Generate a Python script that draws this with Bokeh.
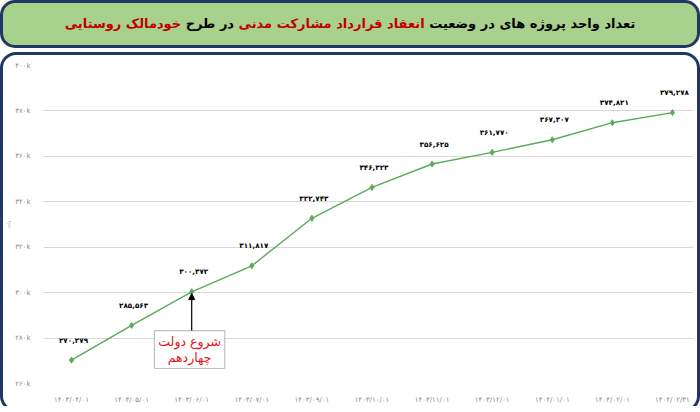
from bokeh.plotting import figure
from bokeh.models import (Range1d, FixedTicker, Div, BoxAnnotation, Label, Arrow,
                          NormalHead, ColumnDataSource)
from bokeh.layouts import column
from bokeh.core.properties import value
from bokeh.embed import file_html
from bokeh.resources import INLINE

# ---------------- data ----------------
categories = ["۱۴۰۳/۰۴/۰۱", "۱۴۰۳/۰۵/۰۱", "۱۴۰۳/۰۶/۰۱", "۱۴۰۳/۰۷/۰۱", "۱۴۰۳/۰۹/۰۱",
              "۱۴۰۳/۱۰/۰۱", "۱۴۰۳/۱۱/۰۱", "۱۴۰۳/۱۲/۰۱", "۱۴۰۴/۰۱/۰۱", "۱۴۰۴/۰۲/۰۱",
              "۱۴۰۴/۰۲/۳۱"]
units = [270279, 285563, 300372, 311817, 332743, 346323, 356625, 361770, 367307, 374821, 379278]
y_ticks = [260000, 280000, 300000, 320000, 340000, 360000, 380000, 400000]
y_tick_labels = ["۲۶۰k", "۲۸۰k", "۳۰۰k", "۳۲۰k", "۳۴۰k", "۳۶۰k", "۳۸۰k", "۴۰۰k"]
note_index = 2
note_lines = ["شروع دولت", "چهاردهم"]
y_title = "واحد"

FA = str.maketrans("0123456789", "۰۱۲۳۴۵۶۷۸۹")
def fa_num(v):
    return f"{v:,}".translate(FA)

FONT = "DejaVu Sans"
GREEN = "#5aab57"
NAVY = "#1f3864"

xs = list(range(len(categories)))
src = ColumnDataSource(dict(x=xs, y=units, lbl=[fa_num(v) for v in units]))

# ---------------- title ----------------
title_html = (
    '<div style="width:700px;height:48px;box-sizing:border-box;background:#a9d18e;'
    f'border:3.5px solid {NAVY};border-radius:15px;display:flex;align-items:center;'
    'justify-content:center;direction:rtl;font-family:\'DejaVu Sans\';font-weight:bold;'
    'font-size:13px;color:#000;">'
    'تعداد واحد پروژه های در وضعیت '
    '<span style="color:#c00000">&nbsp;انعقاد قرارداد مشارکت مدنی&nbsp;</span>'
    ' در طرح '
    '<span style="color:#c00000">&nbsp;خودمالک روستایی</span>'
    '</div>'
)
title_div = Div(text=title_html, width=700, height=52, margin=0)

# ---------------- chart ----------------
p = figure(width=700, height=360, output_backend="svg", toolbar_location=None,
           x_range=Range1d(-0.466, 10.35), y_range=Range1d(260000, 400000),
           min_border_left=43, min_border_right=7, min_border_top=13, min_border_bottom=29,
           margin=0)
p.outline_line_color = None
p.background_fill_color = "white"
p.border_fill_color = None
p.styles = {"outline": f"3.5px solid {NAVY}", "outline-offset": "-3.5px",
            "border-radius": "16px", "clip-path": "inset(0 0 6px 0)"}

p.xgrid.grid_line_color = None
p.ygrid.grid_line_color = "#d9d9d9"
p.ygrid.grid_line_width = 1

p.yaxis.ticker = FixedTicker(ticks=y_ticks)
p.yaxis.major_label_overrides = {t: l for t, l in zip(y_ticks, y_tick_labels)}
p.xaxis.ticker = FixedTicker(ticks=xs)
p.xaxis.major_label_overrides = {i: c for i, c in zip(xs, categories)}
for ax in (p.xaxis, p.yaxis):
    ax.axis_line_color = None
    ax.major_tick_line_color = None
    ax.minor_tick_line_color = None
    ax.major_label_text_font = FONT
    ax.major_label_text_font_size = "7px"
    ax.major_label_text_color = "#8c8c8c"
p.yaxis.major_label_standoff = 7
p.xaxis.major_label_standoff = 6
p.yaxis.axis_label = y_title
p.yaxis.axis_label_text_font = FONT
p.yaxis.axis_label_text_font_size = "4px"
p.yaxis.axis_label_text_font_style = "normal"
p.yaxis.axis_label_text_color = "#a0a0a0"
p.yaxis.axis_label_standoff = 1

p.line("x", "y", source=src, line_color=GREEN, line_width=1.4)
p.scatter("x", "y", source=src, marker="diamond", size=6, fill_color=GREEN, line_color=GREEN)
p.text("x", "y", text="lbl", source=src, text_font=value(FONT), text_font_style="bold",
       text_font_size="7.2px", text_color="#000", text_align="center", text_baseline="middle",
       x_offset=2, y_offset=-20)

# annotation box + arrow
box_top, box_bottom = 283300, 266600
p.add_layout(BoxAnnotation(left=note_index - 0.62, right=note_index + 0.55,
                           top=box_top, bottom=box_bottom, fill_color="white", fill_alpha=1,
                           line_color="#333333", line_width=1.2))
p.add_layout(Arrow(end=NormalHead(size=6, fill_color="black", line_color="black"),
                   x_start=note_index, y_start=box_top, x_end=note_index,
                   y_end=units[note_index] - 800, line_color="black", line_width=1.2))
span = box_top - box_bottom
for k, t in enumerate(note_lines):
    p.add_layout(Label(x=note_index - 0.035, y=box_top - span * (0.3 + 0.42 * k), text=t,
                       text_font=FONT, text_font_size="12.5px", text_color="#e3141b",
                       text_align="center", text_baseline="middle"))

layout = column(title_div, p, spacing=0)
open("out.html", "w").write(file_html(layout, INLINE))
